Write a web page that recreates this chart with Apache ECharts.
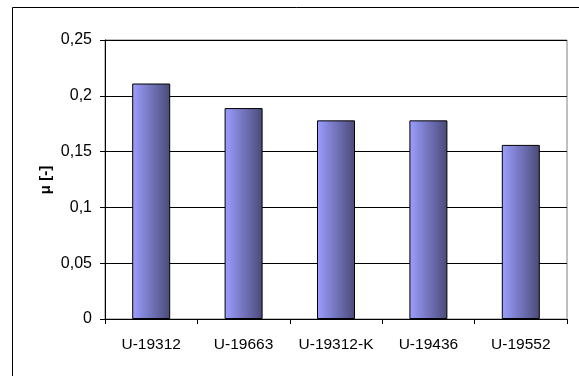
<!DOCTYPE html>
<html>
<head>
<meta charset="utf-8">
<script src="https://cdn.jsdelivr.net/npm/echarts@6/dist/echarts.min.js"></script>
<style>
  html, body { margin: 0; padding: 0; background: #fff; }
  #chart { width: 579px; height: 376px; }
</style>
</head>
<body>
<div id="chart"></div>
<script>
// Friction coefficient per sample
const categories = ['U-19312', 'U-19663', 'U-19312-K', 'U-19436', 'U-19552'];
const muValues = [0.211, 0.189, 0.178, 0.178, 0.156];
const yTicks = [0, 0.05, 0.1, 0.15, 0.2, 0.25];

const chart = echarts.init(document.getElementById('chart'), null, { renderer: 'canvas' });

const fontFamily = '"Liberation Sans", Arial, sans-serif';
const fmt = v => String(Math.round(v * 100) / 100).replace('.', ',');

chart.setOption({
  animation: false,
  backgroundColor: '#fff',
  graphic: [
    {
      type: 'rect',
      shape: { x: 12.5, y: 7.5, width: 600, height: 400 },
      style: { fill: 'none', stroke: '#000', lineWidth: 1 },
      silent: true,
      z: 0
    },
    {
      type: 'text',
      x: 46,
      y: 180,
      rotation: Math.PI / 2,
      style: {
        text: 'μ [-]',
        font: 'bold 15px ' + fontFamily,
        fill: '#000',
        align: 'center',
        verticalAlign: 'middle'
      }
    }
  ],
  grid: { left: 105, top: 40, width: 462, height: 279, show: true, borderColor: '#808080', borderWidth: 1 },
  xAxis: {
    type: 'category',
    data: categories,
    axisLine: { lineStyle: { color: '#000', width: 1 } },
    axisTick: { show: true, alignWithLabel: false, length: 5, lineStyle: { color: '#000' } },
    axisLabel: { color: '#000', fontFamily, fontSize: 15.5, margin: 18, interval: 0, hideOverlap: false }
  },
  yAxis: {
    type: 'value',
    min: yTicks[0],
    max: yTicks[yTicks.length - 1],
    interval: 0.05,
    axisLine: { show: true, lineStyle: { color: '#000', width: 1 } },
    axisTick: { show: true, length: 5, lineStyle: { color: '#000' } },
    axisLabel: { color: '#000', fontFamily, fontSize: 16, margin: 13, formatter: fmt },
    splitLine: { show: true, lineStyle: { color: '#000', width: 1 } }
  },
  series: [{
    type: 'bar',
    data: muValues,
    barWidth: 38,
    itemStyle: {
      color: {
        type: 'linear', x: 0, y: 0, x2: 1, y2: 0,
        colorStops: [
          { offset: 0, color: '#9c9eff' },
          { offset: 1, color: '#4a4a78' }
        ]
      },
      borderColor: '#000',
      borderWidth: 1
    }
  }]
});
</script>
</body>
</html>
